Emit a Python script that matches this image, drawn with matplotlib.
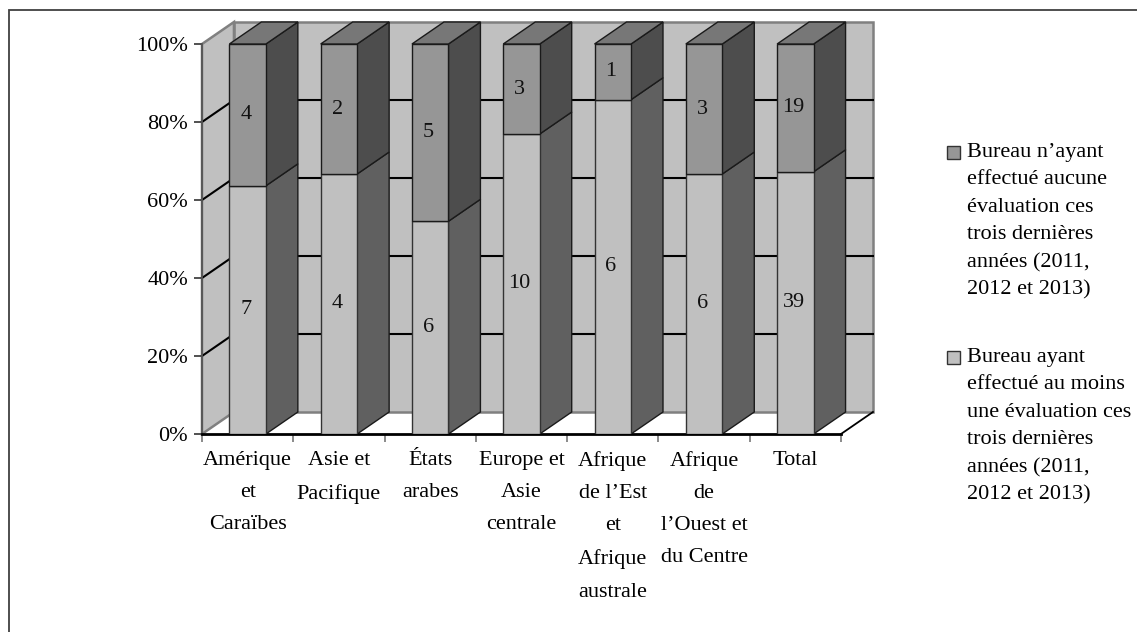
import matplotlib
matplotlib.use("Agg")
import matplotlib.pyplot as plt
from matplotlib.lines import Line2D
from matplotlib.patches import Polygon, Rectangle

plt.rcParams['font.family'] = ['Liberation Serif', 'DejaVu Serif']

categories = ["Amérique\net\nCaraïbes", "Asie et\nPacifique", "États\narabes", "Europe et\nAsie\ncentrale",
              "Afrique\nde l’Est\net\nAfrique\naustrale", "Afrique\nde\nl’Ouest et\ndu Centre", "Total"]
with_eval = [7, 4, 6, 10, 6, 6, 39]
without_eval = [4, 2, 5, 3, 1, 3, 19]
percent_ticks = [0, 20, 40, 60, 80, 100]
percent_labels = ["0%", "20%", "40%", "60%", "80%", "100%"]
legend_labels = ["Bureau n’ayant\neffectué aucune\névaluation ces\ntrois dernières\nannées (2011,\n2012 et 2013)",
                 "Bureau ayant\neffectué au moins\nune évaluation ces\ntrois dernières\nannées (2011,\n2012 et 2013)"]

W, H = 1137, 632
FS = 16
DEPTH_X = 0.35  # in category widths
DEPTH_Y = 5.64  # in percent
BAR_W = 0.40
WALL = "#c0c0c0"
FRAME = "#808080"
LOW_FRONT, LOW_SIDE = "#c0c0c0", "#606060"
UP_FRONT, UP_SIDE, UP_TOP = "#969696", "#4d4d4d", "#777777"

fig = plt.figure(figsize=(W / 100, H / 100), dpi=100, facecolor="white")
ax = fig.add_axes([202 / W, 1 - 434 / H, (841 - 202) / W, (434 - 44) / H])
ax.set_xlim(0, 7)
ax.set_ylim(0, 100)
ax.patch.set_alpha(0)


def face(points, color, edge="#1a1a1a", lw=1.0, z=2):
    ax.add_patch(Polygon(points, closed=True, facecolor=color, edgecolor=edge, linewidth=lw,
                         clip_on=False, zorder=z, joinstyle="miter"))


# walls and floor behind the bars
face([(DEPTH_X, DEPTH_Y), (7 + DEPTH_X, DEPTH_Y), (7 + DEPTH_X, 100 + DEPTH_Y), (DEPTH_X, 100 + DEPTH_Y)],
     WALL, edge=FRAME, lw=1.8, z=1)
face([(0, 0), (DEPTH_X, DEPTH_Y), (DEPTH_X, 100 + DEPTH_Y), (0, 100)], WALL, edge=FRAME, lw=1.8, z=1)
for v in percent_ticks[1:-1]:
    ax.plot([0, DEPTH_X, 7 + DEPTH_X], [v, v + DEPTH_Y, v + DEPTH_Y], color="black", lw=1.5,
            clip_on=False, zorder=1.5, solid_joinstyle="miter")
ax.plot([7, 7 + DEPTH_X], [0, DEPTH_Y], color="black", lw=1.3, clip_on=False, zorder=1.5)

# stacked bars, front faces through ax.bar and the sides as polygons
centers = [i + 0.5 for i in range(len(categories))]
for c, low, up in zip(centers, with_eval, without_eval):
    split = 100 * low / (low + up)
    left, right = c - BAR_W / 2, c + BAR_W / 2
    face([(right, 0), (right + DEPTH_X, DEPTH_Y), (right + DEPTH_X, split + DEPTH_Y), (right, split)], LOW_SIDE)
    face([(right, split), (right + DEPTH_X, split + DEPTH_Y), (right + DEPTH_X, 100 + DEPTH_Y), (right, 100)], UP_SIDE)
    face([(left, 100), (right, 100), (right + DEPTH_X, 100 + DEPTH_Y), (left + DEPTH_X, 100 + DEPTH_Y)], UP_TOP)
    ax.bar(c, split, BAR_W, color=LOW_FRONT, edgecolor="#333333", linewidth=1.0, zorder=3)
    ax.bar(c, 100 - split, BAR_W, bottom=split, color=UP_FRONT, edgecolor="#1a1a1a", linewidth=1.0, zorder=3)
    ax.text(c - 0.02, split / 2, str(low), ha="center", va="center", fontsize=FS, color="#111111", zorder=4)
    ax.text(c - 0.02, split + (100 - split) / 2, str(up), ha="center", va="center", fontsize=FS,
            color="#111111", zorder=4)

# axes
for side in ["top", "right"]:
    ax.spines[side].set_visible(False)
ax.spines["left"].set_color("#555555")
ax.spines["left"].set_linewidth(1.3)
ax.spines["bottom"].set_color("black")
ax.spines["bottom"].set_linewidth(2)
ax.set_yticks(percent_ticks, percent_labels, fontsize=FS)
ax.tick_params(axis="y", length=6, width=1.2, color="#333333", pad=4)
ax.set_xticks(range(8), [""] * 8)
ax.tick_params(axis="x", which="major", length=5.5, width=1.2, color="#777777")
ax.set_xticks(centers, categories, minor=True, fontsize=FS)
ax.tick_params(axis="x", which="minor", length=0, pad=12)
for lab in ax.get_xticklabels(minor=True):
    lab.set_linespacing(1.95)
    lab.set_multialignment("center")

# legend on the right, with swatches next to the first line of each entry
for label, color, top in zip(legend_labels, [UP_FRONT, LOW_FRONT], [143, 348]):
    fig.add_artist(Rectangle((947 / W, 1 - (top + 16) / H), 13 / W, 13 / H, transform=fig.transFigure,
                             facecolor=color, edgecolor="#333333", linewidth=1.0))
    fig.text(967 / W, 1 - top / H, label, ha="left", va="top", fontsize=FS, linespacing=1.6)

# open frame along the top and left
fig.add_artist(Line2D([9 / W, 9 / W, 1], [0, 1 - 10 / H, 1 - 10 / H], transform=fig.transFigure,
                      color="#404040", linewidth=1.3, solid_joinstyle="miter"))

fig.savefig("out.png", dpi=100)
